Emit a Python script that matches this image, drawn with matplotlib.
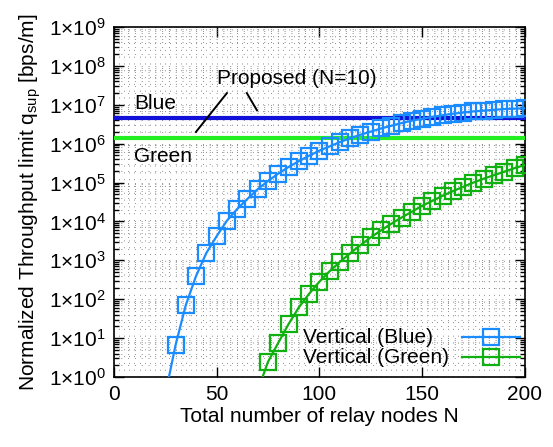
import numpy as np
import matplotlib
matplotlib.use('Agg')
import matplotlib.pyplot as plt
from matplotlib.ticker import FixedLocator, LogLocator, FuncFormatter, NullFormatter

plt.rcParams['font.family'] = ['Liberation Sans', 'DejaVu Sans']
plt.rcParams['mathtext.fontset'] = 'custom'
plt.rcParams['mathtext.rm'] = 'Liberation Sans'
plt.rcParams['mathtext.default'] = 'regular'

# valori (log10 del throughput)
n_blue = list(range(30, 201, 5))
log_blue = [0.82, 1.85, 2.60, 3.19, 3.62, 4.02, 4.32, 4.58, 4.83, 5.04, 5.23, 5.40,
            5.55, 5.69, 5.82, 5.93, 6.04, 6.14, 6.23, 6.31, 6.39, 6.46, 6.53, 6.59,
            6.64, 6.69, 6.73, 6.77, 6.80, 6.83, 6.85, 6.87, 6.89, 6.90, 6.91]
n_green = list(range(75, 201, 5))
log_green = [0.39, 0.88, 1.36, 1.79, 2.14, 2.45, 2.72, 2.96, 3.18, 3.39, 3.59, 3.77,
             3.94, 4.10, 4.25, 4.40, 4.53, 4.66, 4.78, 4.89, 5.00, 5.10, 5.19, 5.28,
             5.37, 5.45]
# punto iniziale della curva (sotto l'asse, viene tagliato)
n_blue_start, log_blue_start = 26, -0.2
n_green_start, log_green_start = 71, -0.2

proposed_blue = 4.5e6
proposed_green = 1.42e6

y_blue = 10 ** np.array(log_blue)
y_green = 10 ** np.array(log_green)

c_blue = '#1a8cff'
c_green = '#10b010'

fig = plt.figure(figsize=(5.53, 4.47), dpi=100)
ax = fig.add_axes([0.206, 0.1566, 0.743, 0.7830])

ax.axhline(proposed_blue, color='#1010d8', lw=3, zorder=3)
ax.axhline(proposed_green, color='#22ee22', lw=3, zorder=3)

ax.plot([n_blue_start] + n_blue, np.r_[10 ** log_blue_start, y_blue], color=c_blue, lw=1.6, zorder=4)
ax.plot([n_green_start] + n_green, np.r_[10 ** log_green_start, y_green], color=c_green, lw=1.6, zorder=4)
ax.plot(n_blue, y_blue, 's', ms=12, mfc='none', mec=c_blue, mew=1.6, zorder=5)
ax.plot(n_green, y_green, 's', ms=12, mfc='none', mec=c_green, mew=1.6, zorder=5)

# legenda disegnata a mano (testo allineato a sinistra, campione a destra)
legend_labels = ['Vertical (Blue)', 'Vertical (Green)']
legend_colors = [c_blue, c_green]
for i, (lab, col) in enumerate(zip(legend_labels, legend_colors)):
    yy = 0.114 - i * 0.057
    ax.text(0.460, yy, lab, transform=ax.transAxes, fontsize=15, va='center', ha='left', zorder=6)
    ax.plot([0.847, 0.988], [yy, yy], transform=ax.transAxes, color=col, lw=1.6, zorder=6)
    ax.plot([0.917], [yy], 's', transform=ax.transAxes, ms=12, mfc='none', mec=col, mew=1.6, zorder=6)

ax.set_yscale('log')
ax.set_xlim(0, 200)
ax.set_ylim(1, 1e9)

ax.set_xticks([0, 50, 100, 150, 200])
ax.xaxis.set_minor_locator(FixedLocator(np.arange(0, 201, 2.5)))
ax.yaxis.set_major_locator(FixedLocator([10.0 ** k for k in range(10)]))
ax.yaxis.set_minor_locator(LogLocator(base=10, subs=np.arange(2, 10), numticks=20))
ax.yaxis.set_major_formatter(FuncFormatter(lambda v, p: '1×10$^{%d}$' % round(np.log10(v))))
ax.yaxis.set_minor_formatter(NullFormatter())

ax.grid(True, which='both', color='#8c8c8c', linestyle=(0, (1, 6)), lw=0.7)
ax.tick_params(which='both', direction='in', top=True, right=True, labelsize=15, width=1)
ax.tick_params(which='major', length=7, pad=6)
ax.tick_params(which='minor', length=3.5)
ax.tick_params(axis='x', which='minor', length=0)
for s in ax.spines.values():
    s.set_linewidth(1.2)

ax.set_xlabel('Total number of relay nodes N', fontsize=15, labelpad=2)
ax.set_ylabel(r'Normalized Throughput limit q$_{sup}$ [bps/m]', fontsize=15, labelpad=4)

ax.text(10, 10 ** 7.04, 'Blue', fontsize=15, va='center', zorder=6)
ax.text(10, 10 ** 5.66, 'Green', fontsize=15, va='center', zorder=6)
ax.text(50, 10 ** 7.68, 'Proposed (N=10)', fontsize=15, va='center', zorder=6)
ax.plot([39.9, 55], [10 ** 6.30, 10 ** 7.30], color='black', lw=1.4, zorder=6)
ax.plot([64.7, 69.6], [10 ** 7.30, 10 ** 6.86], color='black', lw=1.4, zorder=6)

plt.savefig('out.png', dpi=100)
